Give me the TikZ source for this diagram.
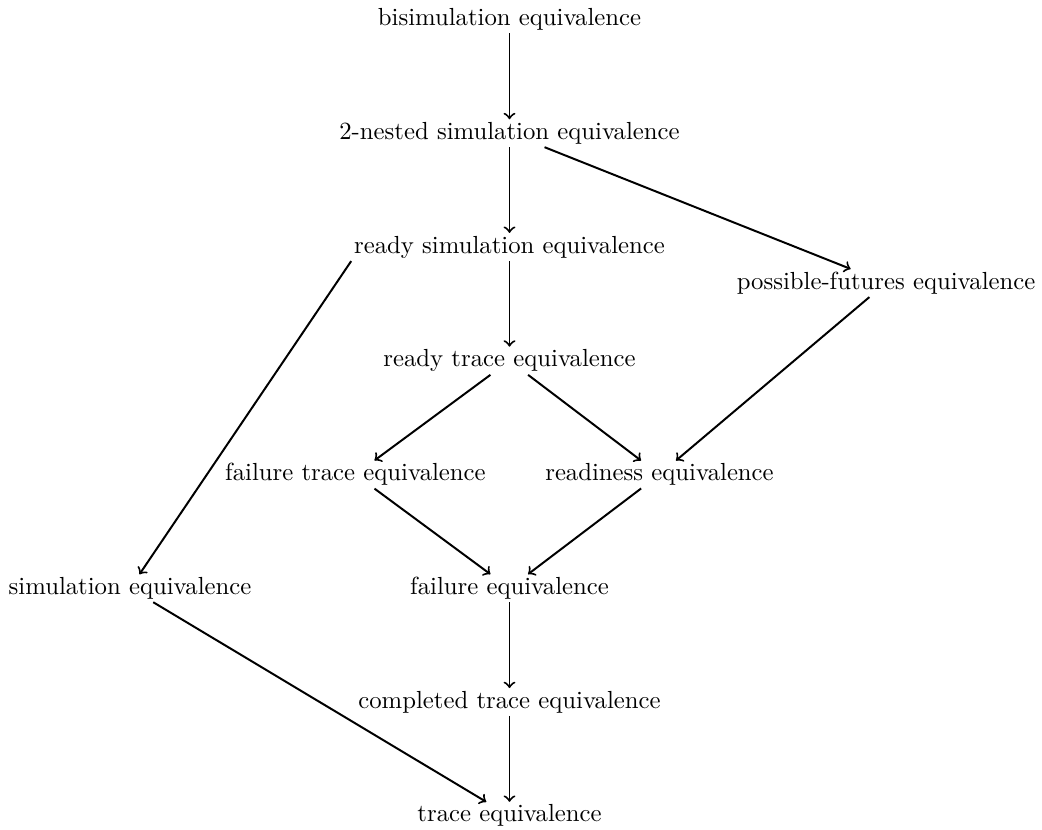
\documentclass[tikz,border=0pt]{standalone}
\usepackage{tikz}
\usetikzlibrary{positioning}

\begin{document}
\begin{tikzpicture}[node distance=1.617cm, inner sep=1pt, conn/.style={->, thick}]
      \useasboundingbox (0,0) rectangle (14.811,-11.784);

      \node (bisim) at (7.242,-0.277) {bisimulation equivalence};
      \node[below of=bisim] (nested) {2-nested simulation equivalence};
      \node[below of=nested] (readysim) {ready simulation equivalence};
      \node[below of=readysim] (readytrace) {ready trace equivalence};
      \node[below of=readytrace] (rowfive) {};
      \node[below of=rowfive] (failure) {failure equivalence};
      \node[below of=failure] (completed) {completed trace equivalence};
      \node[below of=completed] (trace) {trace equivalence};

      % side nodes
      \node[xshift=5.352cm, yshift=-0.512cm] at (readysim) (futures) {possible-futures equivalence};
      \node[xshift=-2.19cm] at (rowfive) (failtrace) {failure trace equivalence};
      \node[xshift=2.132cm] at (rowfive) (readiness) {readiness equivalence};
      \node[xshift=-5.394cm] at (failure) (simulation) {simulation equivalence};

      \draw[conn] (bisim) -- (nested);
      \draw[conn] (nested) -- (readysim);
      \draw[conn] (nested) -- (futures);
      \draw[conn] (readysim) -- (readytrace);
      \draw[conn] (readysim.south west) -- (simulation);
      \draw[conn] (futures) -- (readiness);
      \draw[conn] (readytrace) -- (failtrace);
      \draw[conn] (readytrace) -- (readiness);
      \draw[conn] (failtrace) -- (failure);
      \draw[conn] (readiness) -- (failure);
      \draw[conn] (simulation) -- (trace);
      \draw[conn] (failure) -- (completed);
      \draw[conn] (completed) -- (trace);
    \end{tikzpicture}
\end{document}
